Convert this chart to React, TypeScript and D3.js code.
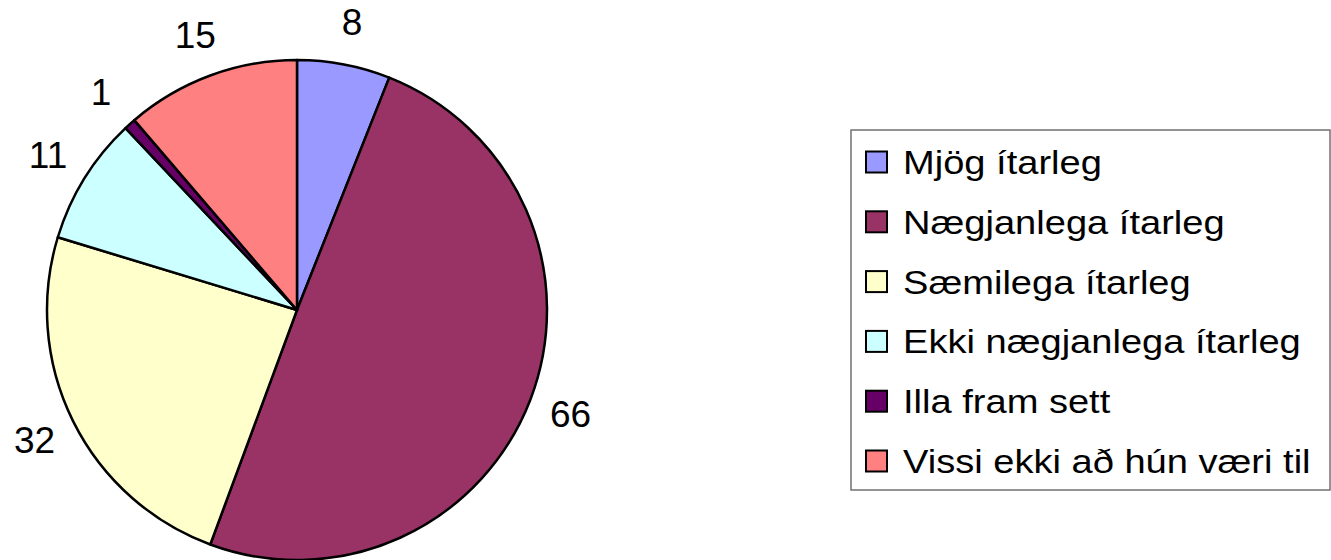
import React from 'react'
import * as d3 from 'd3'

// answers and counts, in drawing order (clockwise from 12 o'clock)
const categories = [
  'Mjög ítarleg',
  'Nægjanlega ítarleg',
  'Sæmilega ítarleg',
  'Ekki nægjanlega ítarleg',
  'Illa fram sett',
  'Vissi ekki að hún væri til',
]
const counts = [8, 66, 32, 11, 1, 15]
const colors = ['#9999FF', '#993366', '#FFFFCC', '#CCFFFF', '#660066', '#FF8080']

const WIDTH = 1331
const HEIGHT = 560
const FONT = 'Arial, "Liberation Sans", sans-serif'

export default function App() {
  const cx = 297,
    cy = 310,
    radius = 250

  const rows = categories.map((c, i) => ({ name: c, value: counts[i], color: colors[i] }))

  const pie = d3.pie<any>().sort(null).value(d => d.value)
  const arcs = pie(rows)
  const arc = d3.arc<any>().innerRadius(0).outerRadius(radius)
  const labelArc = d3.arc<any>().innerRadius(293).outerRadius(293)

  // legend layout
  const legend = { x: 851, y: 130, w: 479, h: 360 }
  const rowY = d3.scalePoint<number>().domain(d3.range(categories.length)).range([162, 461])

  return (
    <svg
      width={WIDTH}
      height={HEIGHT}
      style={{ position: 'absolute', left: 0, top: 0, background: '#fff' }}
      fontFamily={FONT}
    >
      <g transform={`translate(${cx},${cy})`}>
        {arcs.map((a, i) => (
          <path key={i} d={arc(a) as string} fill={a.data.color} stroke="#000" strokeWidth={2.5} strokeLinejoin="round" />
        ))}
        {arcs.map((a, i) => {
          const [lx, ly] = labelArc.centroid(a)
          return (
            <text key={'l' + i} x={lx} y={ly} fontSize={37} textAnchor="middle" dominantBaseline="central" fill="#000">
              {a.data.value}
            </text>
          )
        })}
      </g>

      <rect x={legend.x} y={legend.y} width={legend.w} height={legend.h} fill="#fff" stroke="#707070" strokeWidth={1.5} />
      {rows.map((r, i) => {
        const y = rowY(i) as number
        return (
          <g key={'lg' + i}>
            <rect x={866} y={y - 10.5} width={21} height={21} fill={r.color} stroke="#000" strokeWidth={2} />
            <text transform={`translate(903,${y + 12}) scale(1.12,1)`} fontSize={34} fill="#000">
              {r.name}
            </text>
          </g>
        )
      })}
    </svg>
  )
}
